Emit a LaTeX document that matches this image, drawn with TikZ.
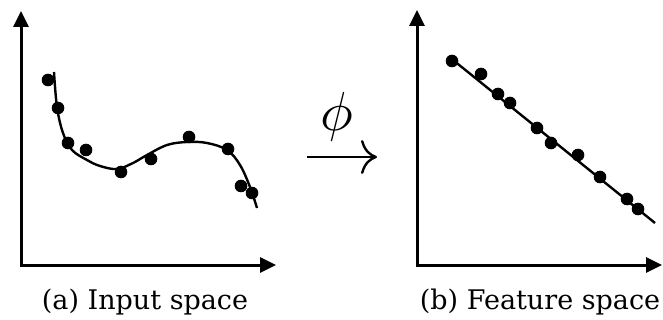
\documentclass[tikz,border=0pt]{standalone}
\usepackage{fontspec}
\setmainfont{DejaVu Serif}
\usetikzlibrary{arrows.meta}

\begin{document}
\begin{tikzpicture}[x=1pt, y=-1pt,
    axis/.style={line width=3pt, {Triangle[length=16pt,width=15pt]}-{Triangle[length=16pt,width=15pt]}},
    fit/.style={line width=2.4pt}, dot/.style={fill=black},
    caption/.style={anchor=base, font=\fontsize{27}{32}\selectfont},
    map/.style={line width=2.4pt, -{Computer Modern Rightarrow[length=16pt,width=34pt,line width=2.4pt]}} ]
    \useasboundingbox (0,0) rectangle (663,320);

    % input space
    \coordinate (ytipA) at (21,11); \coordinate (xtipA) at (276,265);
    \draw[axis] (ytipA) |- (xtipA);
    \draw[fit] plot[smooth, tension=0.6] coordinates {(54,72) (57,107) (63,133)
    (72,150) (87,160) (100,166) (117,169) (133,163) (147,155) (167,145) (187,142)
    (207,143) (227,150) (240,165) (250,187) (257,208)};
    \foreach \x/\y in {48/80, 58/108, 68/143, 86/150, 121/172, 151/159, 189/137,
    228/149, 241/186, 252/193} \fill[dot] (\x,\y) circle (6.3);
    \node[caption] (capA) at (145,309) {(a) Input space};

    % the map
    \node[anchor=base, scale=5.5] (phi) at (337,131) {$\phi$};
    \coordinate (mapL) at (307,157); \coordinate (mapR) at (377,157);
    \draw[map] (mapL) -- (mapR);

    % feature space
    \coordinate (ytipB) at (417,10); \coordinate (xtipB) at (662,265);
    \draw[axis] (ytipB) |- (xtipB);
    \coordinate (lineS) at (453,60); \coordinate (lineE) at (655,223);
    \draw[fit] (lineS) -- (lineE);
    \foreach \x/\y in {452/61, 481/74, 498/94, 510/103, 537/128, 551/143,
    578/155, 600/177, 627/199, 638/209} \fill[dot] (\x,\y) circle (6.3);
    \node[caption] (capB) at (540,309) {(b) Feature space};

\end{tikzpicture}
\end{document}
